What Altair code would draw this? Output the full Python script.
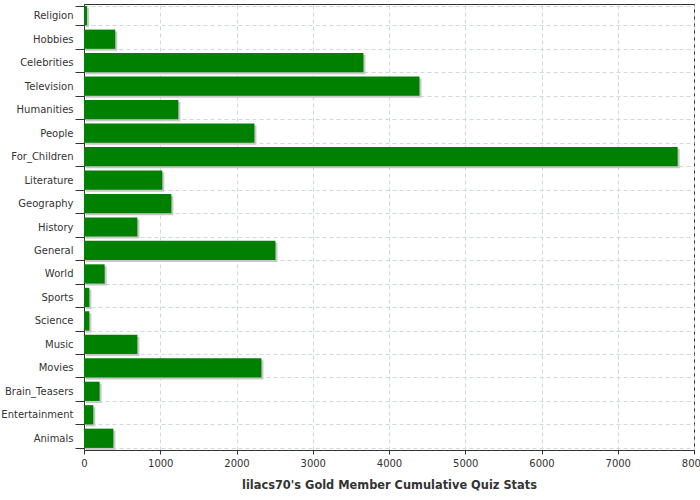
import altair as alt
import pandas as pd

categories = ["Religion", "Hobbies", "Celebrities", "Television", "Humanities", "People",
              "For_Children", "Literature", "Geography", "History", "General", "World",
              "Sports", "Science", "Music", "Movies", "Brain_Teasers", "Entertainment", "Animals"]
values = [40, 410, 3665, 4400, 1237, 2235, 7786, 1027, 1146, 700, 2511, 271,
          70, 70, 700, 2327, 205, 122, 385]

df = pd.DataFrame({"category": categories, "value": values})

FONT = "DejaVu Sans"

y_enc = alt.Y("category:N", sort=categories,
              scale=alt.Scale(paddingInner=0.18, paddingOuter=0.09),
              axis=alt.Axis(title=None, tickBand="extent", grid=True, gridDash=[4, 3],
                            gridColor="#cfd8dc", tickSize=9, tickColor="#333",
                            domainColor="#333", labelFont=FONT, labelFontSize=10,
                            labelColor="#333", labelPadding=2))
x_enc = alt.X("value:Q", scale=alt.Scale(domain=[0, 8000], nice=False),
              axis=alt.Axis(values=list(range(0, 8001, 1000)), format="d", labelFlush=False,
                            grid=True, gridDash=[4, 3],
                            gridColor="#cfd8dc", tickSize=4, tickColor="#333",
                            domainColor="#333", labelFont=FONT, labelFontSize=10,
                            labelColor="#333", labelPadding=4,
                            title="lilacs70's Gold Member Cumulative Quiz Stats",
                            titleFont=FONT, titleFontSize=11.4, titleFontWeight="bold",
                            titleColor="#333", titlePadding=11))

shadow = alt.Chart(df).mark_bar(color="#c8c8c8", xOffset=2, yOffset=2).encode(
    x=x_enc, y=y_enc)
bars = alt.Chart(df).mark_bar(color="#008000").encode(x=x_enc, y=y_enc)

chart = (shadow + bars).properties(
    width=610, height=446,
    autosize=alt.AutoSizeParams(type="none"),
    padding={"left": 84, "top": 4, "right": 6, "bottom": 50},
).configure_view(stroke="#333", strokeWidth=1)

chart.save("out.html", embed_options={"renderer": "svg", "actions": False})
